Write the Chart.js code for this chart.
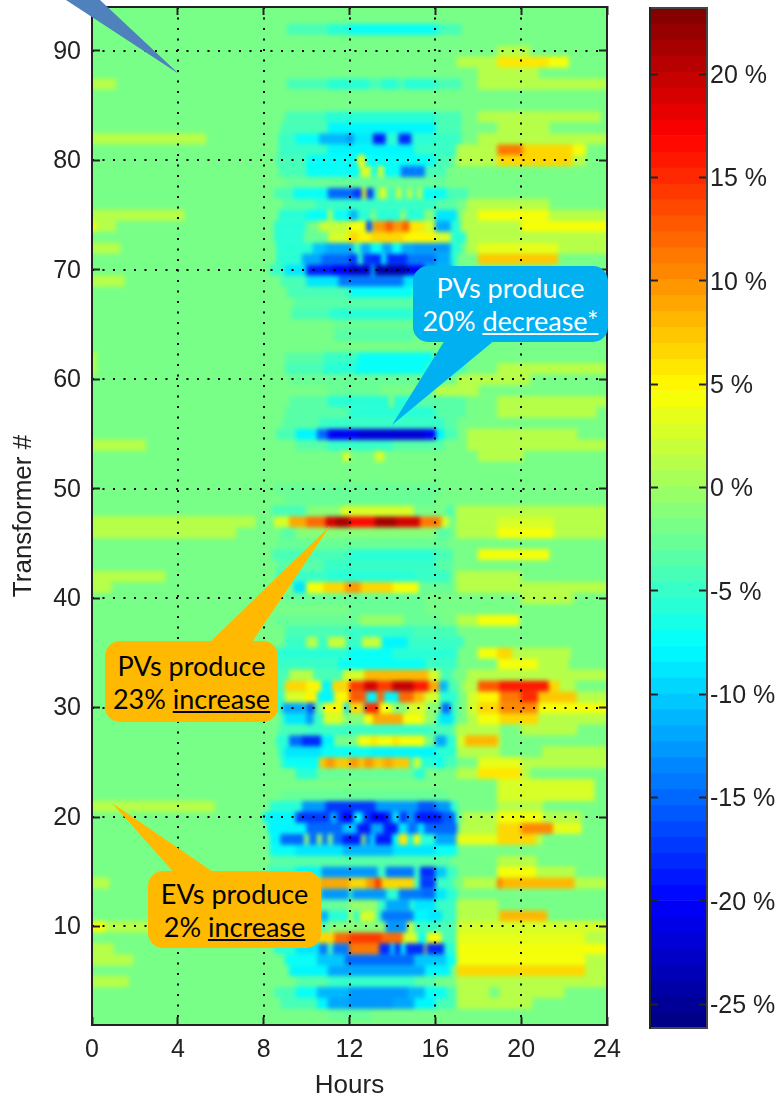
<!DOCTYPE html>
<html>
<head>
<meta charset="utf-8">
<title>Transformer load change</title>
<script src="https://cdn.jsdelivr.net/npm/chart.js@4"></script>
<style>
    html, body { margin: 0; background: #fff; }
    #page { position: relative; width: 784px; height: 1098px; overflow: hidden; }
    canvas { position: absolute; top: 0; }
    #pointers { position: absolute; left: 0; top: 0; }
    .callout {
        position: absolute;
        display: flex;
        flex-direction: column;
        justify-content: center;
        text-align: center;
        border-radius: 15px;
        font-family: Lato, "Noto Sans", sans-serif;
        font-size: 27px;
        line-height: 33px;
    }
</style>
</head>
<body>
<div id="page">
    <canvas id="heatChart" width="784" height="1098" style="left:0"></canvas>
    <canvas id="barChart" width="164" height="1098" style="left:620px"></canvas>
    <svg id="pointers" width="784" height="1098">
        <polygon points="66,0 100,0 179,74" fill="#4f81bd"/>
        <polygon points="445,340 495,340 392,425" fill="#00b0f0"/>
        <polygon points="207,645 250,645 330,526" fill="#ffb900"/>
        <polygon points="177,876 219,876 112,803" fill="#ffb900"/>
    </svg>
    <div class="callout" style="left:413px;top:266px;width:195px;height:76px;background:#00b0f0;color:#fff">
        <div>PVs produce</div><div>20% <u>decrease*</u></div>
    </div>
    <div class="callout" style="left:105px;top:641px;width:173px;height:81px;background:#ffb900;color:#000">
        <div>PVs produce</div><div>23% <u>increase</u></div>
    </div>
    <div class="callout" style="left:148px;top:871px;width:173px;height:77px;background:#ffb900;color:#000">
        <div>EVs produce</div><div>2% <u>increase</u></div>
    </div>
</div>
<script>
const baseChange = -1.5;
const colorMin = -26.16;
const colorMax = 23.2;
const colorSteps = 64;

const hourTicks = [0, 4, 8, 12, 16, 20, 24];
const transformerTicks = [10, 20, 30, 40, 50, 60, 70, 80, 90];
const percentTicks = [-25, -20, -15, -10, -5, 0, 5, 10, 15, 20];

const transformers = [
    1, 2, 3, 4, 5, 6, 7, 8, 9, 10, 11, 12, 13, 14, 15, 16, 17, 18, 19, 20, 21, 22, 23, 24,
    25, 26, 27, 28, 29, 30, 31, 32, 33, 34, 35, 36, 37, 38, 39, 40, 41, 42, 43, 44, 45, 46, 47,
    48, 49, 50, 51, 52, 53, 54, 55, 56, 57, 58, 59, 60, 61, 62, 63, 64, 65, 66, 67, 68, 69, 70,
    71, 72, 73, 74, 75, 76, 77, 78, 79, 80, 81, 82, 83, 84, 85, 86, 87, 88, 89, 90, 91, 92, 93, 94
];

// one list per transformer: fromHour, toHour, change %, repeated. later runs paint over earlier ones
const changeRuns = [
    [],
    [11,13,-3],
    [8.8,17,-4.5, 10.5,16,-8, 11,15,-12, 12,14,-13, 17,20.5,1.5],
    [8.5,17,-4.5, 9.5,16.5,-7, 10.5,15.5,-11, 12,14.7,-13, 17,18.5,1.5, 19,22,1.5],
    [0,1.7,1.5, 9.5,16,-3.5, 11,15,-5, 17,24,1.5],
    [9.2,16.7,-8, 11,15.5,-12, 17,19,6.5, 19,23,7, 23,24,1.5],
    [0,1.9,1.5, 9,17,-7, 10.5,16.5,-10, 11.8,15,-15, 17,23,4, 23,24,1.5],
    [0,1,1.5, 8.5,17,-6, 9.5,10.6,-9, 10.6,12,-14, 11,11.2,-4, 12,13.4,11, 13.4,15.5,-18, 13.9,14.1,-10, 14.4,14.6,-8, 15.5,15.6,3, 15.6,16.4,-18, 17,24,4],
    [8.5,10.5,-7, 10.5,11.3,7, 11.3,12,12, 12,13.5,14, 13.5,14.5,12, 14.5,15.2,3, 15.2,15.6,-7, 15.6,16.3,4, 16.3,17,-4, 17,23,3.5, 23,24,1.5],
    [0,0.6,4, 0.6,5,1.5, 9,17,-4, 11,13.7,-1, 13.7,14.7,-13, 14.7,15,3, 15,16,-5, 17,24,3],
    [8.8,17,-5, 10.7,11,-12, 11,12,-6, 12,12.1,4, 12.5,13.2,3, 13.5,15,-14, 15,15.7,-8, 15.7,16.3,-9, 17,19,1.5, 19,21.2,8],
    [8.8,17,-5, 10.7,12,-3, 12,13.3,0, 13.7,14.8,-12, 15,16,-9, 17,18.9,1.5],
    [8.6,17,-6, 10.7,13.7,-13, 12,12.1,-4, 14.3,15.4,-14, 15.4,16,-15, 16,16.5,-9],
    [0,0.8,1.5, 8.3,16.8,-5, 10,10.6,2, 10.6,12,9, 12,12.8,7, 12.8,13.5,10, 13.2,13.5,14, 13.5,15,7, 15.3,16,-17, 17.3,18.9,1.5, 18.9,19.1,11, 19.1,22.5,8.5, 22.5,24,1.5],
    [8.2,17,-5, 9.5,10.6,-8, 10.7,13.3,-13, 13.7,15,-14, 15.3,16,-18, 16,16.5,-10, 18.9,20.7,4, 20.7,22.5,1.5],
    [8.3,16.7,-3.5, 18.9,20.7,1.5],
    [8.3,17,-7, 9.5,16,-9, 11.7,14,-11],
    [8.3,17,-8, 8.8,11.7,-15, 9.9,10.1,-1, 10.5,10.7,0, 11,11.2,-2, 11.7,12.5,-19, 12.5,13,-14, 12.6,12.7,2, 13.2,14,-19, 14,14.3,-8, 14.3,14.7,6, 15,15.3,5, 15.3,16,-6, 16,17,-12, 17,18.9,3.5, 18.9,20.7,6.5, 20.7,21,1.5],
    [8.2,17,-8, 10,17,-15, 11.7,12.3,-10, 12.4,13,-19, 13,13.6,-12, 13.6,14.2,-19, 14.3,14.7,-9, 14.9,15.2,-14, 15.2,15.5,-9, 15.5,16.9,-15, 17.2,18.9,1.5, 18.9,20,6.5, 20,21.5,10.5, 21.5,22.8,3.5],
    [8,17,-8, 9.5,16.9,-17, 11.1,11.4,-12, 11.7,12.2,-20, 12.2,12.6,-8, 13,13.7,-20, 14,14.3,-9, 14.7,15,-13, 15.2,16.3,-19, 16.3,16.9,-16, 17.3,18.9,1.5, 18.9,21,4.5, 21,22.8,1.5],
    [0,5.7,1.5, 8.3,17,-6, 9.8,16.7,-13, 10.9,13.2,-17, 15.2,16,-16, 18.9,21,1.5],
    [8.8,16.5,-3, 18.9,23.4,3],
    [18.9,23.4,3],
    [9.5,15.5,-6, 10.5,15,-3, 17,20.4,1.5, 18,20,6],
    [8.8,17,-6, 9,11,-7, 10.6,14.8,7.5, 10.9,11.3,10, 12,12.4,10, 12.7,13.1,10, 13.6,14,9, 15,15.3,3, 16,16.3,-7, 16.5,17,-4, 18,20,3.5, 20,24,1.5],
    [8.7,17,-6, 9,10.7,-9, 10.7,13,-7, 13,16,-8, 17,19,1.5, 21,24,1.5],
    [8.6,17,-6, 9.2,10.8,-15, 9.8,10.7,-18, 10.7,11.3,-8, 11.3,12.4,-2, 12.4,15.5,4, 13,13.3,6, 14,14.3,6, 15.5,16,-2, 16,16.5,-12, 17,19,3, 17.4,18.9,8],
    [8.7,16.8,-4.5, 10,15.7,-5, 17,19,1.5, 20,22.6,1.5],
    [8.8,17,-5, 9,10,-9, 10,10.3,-13, 10.8,11.7,3, 11.7,12.7,-1, 12.7,13.5,4, 13.1,14.5,9, 14.5,15.5,4, 15.5,16,0, 16.2,16.8,-9, 17.5,18,1.5, 18,19,4, 19,20.8,6.5, 20.8,24,1.5],
    [8.4,17,-5, 8.9,9.9,-12, 10,10.4,-16, 10.4,11.7,-3, 10.8,11.7,5, 11.8,12,-9, 12,12.6,7, 12.7,13.4,15, 13.4,14,4, 14,14.7,-1, 14.7,15.6,3, 15.6,16.2,-1, 16.3,16.7,-15, 17.5,18,3, 18,19,7, 19,20.8,10.5, 20.8,24,4],
    [8.4,17,-5, 9,9.9,3, 9.9,10.5,5, 10.5,11.3,-8, 11.3,12,5, 12,12.8,13, 12.8,14.3,-8, 13.3,13.6,12, 14.3,15,12, 15,15.5,8, 15.5,16.2,3, 16.2,17,-6, 17.5,18,3, 18,19,5, 19,20,11, 20,20.8,15, 20.8,22.6,7.5, 22.6,24,1.5],
    [8.4,17,-4, 9,10,7, 10,10.7,5, 10.7,11.2,-8, 11.2,12,7, 12,12.7,14, 12.7,13.3,19, 13.3,14,14, 14,15,20, 15,15.7,16, 15.7,16.2,9, 16.2,16.6,-11, 16.6,17,-4, 17.3,18,1.5, 18,19,13, 19,21.3,16, 21.3,21.8,7, 21.8,22.5,1.5],
    [8.6,16.8,-4.5, 9.2,10.3,1, 11.7,12.7,3, 12.7,15.7,8, 15.7,16.2,3, 17.5,24,1.5],
    [8.5,17,-5, 11.5,15.5,-7, 18.9,20.8,4.5, 20.8,22.2,1.5],
    [8.5,17,-5.5, 12,14,-7, 18,18.9,4.5, 18.9,19.6,7, 19.6,22.3,1.5],
    [9,17.3,-5, 10,10.5,1, 11,11.8,2, 12.6,13.5,2, 13.5,14.7,-8],
    [9,17,-4, 12,15,-5],
    [8.5,16.2,-3, 12.5,14.5,0, 17,18,1.5, 18,19.9,4.5],
    [12,15.5,-3],
    [9,15.5,-3, 20,22.4,1.5],
    [0,0.9,1.5, 9.4,16.8,-3, 9.4,10,-9, 10,15.2,4, 10.8,14,7, 11.8,12.5,10, 17,24,1.5],
    [0,3.4,1.5, 8.6,16.7,-5, 11,15,-6, 17,20,1.5],
    [8.6,16.8,-3.5, 10.8,16,-5],
    [8.4,16.8,-4, 12,16,-6, 18,21.3,4],
    [8.6,16.6,-3],
    [0,6.7,1.5, 8.8,16.7,-3.5, 9.5,16,-1, 17,24,1.5, 18.9,21.5,4],
    [0,6.7,1.5, 6.7,7.6,1.5, 8.5,16.6,3, 9.2,16.3,9, 10,10.9,12, 10.9,12,19, 11.4,12.1,21, 12,13.2,17, 13.2,14.2,21, 14.2,15.3,19, 15.3,16.2,11, 17,24,1.5, 18.9,21.5,3],
    [8.4,16.8,-4, 10,11.6,-1, 11.6,15,3, 15,16.5,-2, 17,24,1.5],
    [9,16,-3],
    [8.5,16.2,-3],
    [],
    [],
    [11.7,12,3, 13.2,13.6,3, 18,20.1,1.5],
    [0,2.5,1.5, 9.5,16.4,-3.5, 11,14,-5, 17.5,24,1.5],
    [8.6,17,-4, 9.5,16.4,-8, 10.5,16,-15, 11,16,-20, 12.4,15.5,-22, 17.5,22.6,1.5],
    [8.9,17,-3.5, 10.6,16.4,-5],
    [9,17.4,-3.5, 12,16,-6, 18.9,23.5,1.5],
    [9.2,17.4,-3.5, 11,15,-5.5, 13.9,14,2, 18.9,24,1.5],
    [11,13.4,-3, 16,18,1.5],
    [9.2,17.4,-3, 17,20.4,1.5],
    [0,0.2,1.5, 9,17.4,-4, 10.8,17,-6, 12.3,15.5,-7.5, 18.9,24,1.5],
    [0,0.2,1.5, 9,15.5,-3.5, 10.8,15.5,-5, 12.4,15.9,-7.5],
    [],
    [11.3,15,-3.5],
    [11.3,15,-3],
    [9.3,15,-4, 11.1,15,-6],
    [9.4,15,-3.5],
    [9.1,15,-4, 12,15,-7],
    [0,1.5,1.5, 8.8,17,-4, 10,16,-9, 11.5,14.5,-14],
    [8.3,17,-5, 9,10,-9, 10,11.2,-19, 11.2,12,-20, 12,13,-23, 13,13.2,-12, 13.2,14.7,-24, 14.7,15.5,-20, 15.5,16.8,-12],
    [8.6,17,-6, 9.8,16.7,-12, 10.7,12,-15, 12,13,-17, 12.4,12.6,-6, 13,14.7,-18, 13.5,13.7,-8, 14.7,16,-14, 18,21.7,7.5],
    [0,1.3,1.5, 8.6,17.2,-6, 10.3,11.3,-10, 10.9,15,-12, 12.2,12.5,-5, 13,13.5,-7, 14,14.4,-7, 15,16.7,-13, 17.5,24,1.5, 18,21.7,3.5],
    [8.5,17.4,-6, 9.9,11.9,3, 9.9,11,-3, 11.9,16,5, 12,12.4,7, 13,14.5,7, 16,16.7,3, 17.5,24,1.5],
    [0,0.2,4, 0.2,1.1,1.5, 8.5,17.4,-6, 10,10.6,-2, 10.6,12,2, 12,12.8,4, 12.8,13,-17, 13.1,14.8,10, 13.7,14,12.5, 14.5,14.8,13, 14.8,15.5,6, 15.5,16,3, 16,16.7,-12, 17.2,20,1.5, 20,24,4.5],
    [0,4.3,1.5, 8.7,17,-6, 10,12,-7, 11,11.2,1, 12,12.4,-11, 12.4,15.5,-6, 13,13.2,-1, 14.4,14.6,0, 15.5,16,-1, 16,17,-9, 17.3,18,1.5, 18,21.3,4.3, 21.3,24,1.5],
    [8.9,17,-3.5, 10.4,16,-5, 17.5,21.3,1.5],
    [8.5,17.5,-4.5, 9.4,11,-7, 11,12.2,-15, 12.2,12.6,-17, 12.6,12.8,4, 12.8,13.1,-17, 13.4,13.7,3.5, 14.2,14.4,3, 14.7,14.9,2, 15.2,15.4,3, 15.4,16.5,-7],
    [9,16.5,-3],
    [8.7,16.5,-4, 10,15.5,-7, 12.5,13,3, 13.3,13.6,2, 14.4,15.5,-14],
    [8.6,16.8,-4.5, 10,16,-7, 12.4,12.7,4, 17,18.9,1.5, 18.9,22.4,7, 22.4,23,1.5],
    [8.7,17,-5, 11,15,-8, 17,18.9,1.5, 18.9,20.1,11.5, 20.1,22.4,6.5, 22.4,23,4.5],
    [0,5.3,1.5, 8.7,17.2,-5, 9.5,10.6,-7, 10.6,11.9,-11, 11.9,12.2,-13, 12.2,13,-9, 13.1,13.7,-19, 13.7,14.3,-6, 14.3,14.9,-18, 14.9,16,-6, 18,24,1.5],
    [8.8,17.2,-4.5, 11,16,-8, 18.9,21.3,1.5],
    [9,17.2,-4, 10.9,16,-6, 18,23.7,1.5],
    [],
    [],
    [0,1.1,1.5, 9.1,17.2,-4, 11,12.9,-5.5, 13.5,14.2,-5.5, 14.6,16,-5.5, 18,24,1.5],
    [18,20.8,1.5],
    [17,18.9,1.5, 18.9,21.3,5.5, 21.3,22.2,4.5],
    [18.9,20.4,1.5],
    [],
    [9.1,17.2,-4, 11,16.2,-6, 12,16,-7],
    [],
    []
];

function jetColor(value) {
    const span = colorMax - colorMin;
    const level = Math.min(colorSteps - 1, Math.max(0, Math.floor((value - colorMin) / span * colorSteps)));
    const t = (level + 0.5) / colorSteps;
    const channel = (c) => Math.round(255 * Math.min(1, Math.max(0, 1.5 - Math.abs(4 * t - c))));
    return `rgb(${channel(3)},${channel(2)},${channel(1)})`;
}

const heatCells = [];
transformers.forEach((transformer, row) => {
    heatCells.push({ y: transformer, x: [0, 24], change: baseChange });
    const runs = changeRuns[row];
    for (let i = 0; i < runs.length; i += 3) {
        heatCells.push({ y: transformer, x: [runs[i], runs[i + 1]], change: runs[i + 2] });
    }
});

const levelSize = (colorMax - colorMin) / colorSteps;
const barCells = [];
for (let i = 0; i < colorSteps; i++) {
    barCells.push({ y: colorMin + (i + 0.5) * levelSize, x: [0, 1] });
}

const axisFont = { family: "'Liberation Sans', Arial, sans-serif", size: 25 };
const inkColor = "#222";

function keepTicks(allowed) {
    return (scale) => {
        scale.ticks = allowed.map((value) => ({ value }));
    };
}

// chart.js reserves room for half a tick label past the plot, which would move the plot edges
function fixSize(scale, size) {
    if (scale.isHorizontal()) scale.height = size;
    else scale.width = size;
    scale.paddingTop = scale.paddingBottom = scale.paddingLeft = scale.paddingRight = 0;
}

// label-less axis for the inward tick marks and frame line
function frameAxis(position, allowed, min, max) {
    return {
        type: "linear",
        position,
        min,
        max,
        offset: false,
        weight: 0,
        afterBuildTicks: keepTicks(allowed),
        afterFit: (scale) => fixSize(scale, 0),
        ticks: { display: false },
        border: { color: inkColor, width: 2, z: 2 },
        grid: { drawOnChartArea: false, offset: false, drawTicks: true, tickLength: -8, tickColor: inkColor, tickWidth: 2, z: 2 }
    };
}

// the original is an interpolated image, so soften the blocks a little before the grid goes on top
const softenCells = {
    id: "softenCells",
    afterDatasetsDraw(chart) {
        const { left, top, width, height } = chart.chartArea;
        const ctx = chart.ctx;
        ctx.save();
        ctx.beginPath();
        ctx.rect(left, top, width, height);
        ctx.clip();
        ctx.filter = "blur(2px)";
        ctx.drawImage(chart.canvas, left, top, width, height, left, top, width, height);
        ctx.restore();
    }
};

const dottedGrid = { color: "#000", lineWidth: 2, offset: false, z: 1, drawTicks: false };
const dottedBorder = { display: false, dash: [2, 8.5] };

new Chart(document.getElementById("heatChart").getContext("2d"), {
    type: "bar",
    data: {
        datasets: [{
            label: "Load change (%)",
            data: heatCells,
            backgroundColor: (ctx) => jetColor(ctx.raw ? ctx.raw.change : baseChange),
            borderWidth: 0,
            barPercentage: 1,
            categoryPercentage: 1,
            grouped: false
        }]
    },
    plugins: [softenCells],
    options: {
        indexAxis: "y",
        responsive: false,
        animation: false,
        layout: { padding: { top: 7, right: 177 } },
        plugins: { legend: { display: false }, tooltip: { enabled: false } },
        scales: {
            x: {
                type: "linear",
                min: 0,
                max: 24,
                weight: 1,
                afterBuildTicks: keepTicks(hourTicks),
                afterFit: (scale) => fixSize(scale, 73),
                title: { display: true, text: "Hours", font: { ...axisFont, size: 26 }, color: inkColor, padding: { top: 2, bottom: -3 } },
                ticks: { font: axisFont, color: inkColor, padding: 10, maxRotation: 0, autoSkip: false },
                border: dottedBorder,
                grid: dottedGrid
            },
            y: {
                type: "linear",
                min: 1,
                max: 94,
                offset: false,
                weight: 1,
                afterBuildTicks: keepTicks(transformerTicks),
                afterFit: (scale) => fixSize(scale, 92),
                title: { display: true, text: "Transformer #", font: { ...axisFont, size: 26 }, color: inkColor, padding: { top: 8, bottom: 0 } },
                ticks: { font: axisFont, color: inkColor, padding: 11, labelOffset: 1, autoSkip: false },
                border: dottedBorder,
                grid: dottedGrid
            },
            xTop: frameAxis("top", hourTicks, 0, 24),
            xBottom: frameAxis("bottom", hourTicks, 0, 24),
            yRight: frameAxis("right", transformerTicks, 1, 94),
            yLeft: frameAxis("left", transformerTicks, 1, 94)
        }
    }
});

new Chart(document.getElementById("barChart").getContext("2d"), {
    type: "bar",
    data: {
        datasets: [{
            label: "Colour scale",
            data: barCells,
            backgroundColor: (ctx) => jetColor(ctx.raw ? ctx.raw.y : baseChange),
            borderWidth: 0,
            barPercentage: 1,
            categoryPercentage: 1,
            grouped: false
        }]
    },
    options: {
        indexAxis: "y",
        responsive: false,
        animation: false,
        layout: { padding: { left: 30, top: 8, bottom: 70 } },
        plugins: { legend: { display: false }, tooltip: { enabled: false } },
        scales: {
            x: {
                type: "linear",
                min: 0,
                max: 1,
                afterFit: (scale) => fixSize(scale, 0),
                ticks: { display: false },
                border: { color: "#444", width: 2, z: 2 },
                grid: { display: false }
            },
            xTop: {
                type: "linear",
                position: "top",
                min: 0,
                max: 1,
                afterFit: (scale) => fixSize(scale, 0),
                ticks: { display: false },
                border: { color: "#444", width: 2, z: 2 },
                grid: { display: false }
            },
            y: {
                type: "linear",
                position: "right",
                min: colorMin,
                max: colorMax,
                offset: false,
                afterBuildTicks: keepTicks(percentTicks),
                afterFit: (scale) => fixSize(scale, 77),
                ticks: { font: axisFont, color: inkColor, padding: 11, labelOffset: 2, autoSkip: false, callback: (value) => `${value} %` },
                border: { color: "#444", width: 2, z: 2 },
                grid: { drawOnChartArea: false, offset: false, drawTicks: true, tickLength: -8, tickColor: inkColor, tickWidth: 2, z: 2 }
            },
            yLeft: frameAxis("left", percentTicks, colorMin, colorMax)
        }
    }
});
</script>
</body>
</html>
